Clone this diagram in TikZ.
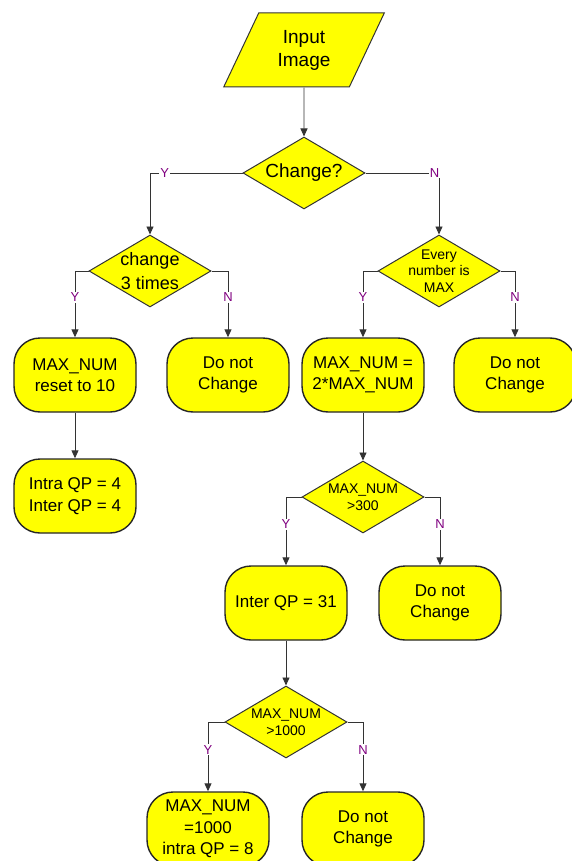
\documentclass[tikz,border=0pt]{standalone}
\usepackage{fontspec}
\setmainfont{Liberation Sans}
\usetikzlibrary{shapes.geometric,arrows.meta}
\definecolor{fc}{RGB}{255,255,0}
\definecolor{lab}{RGB}{128,0,128}

\begin{document}
\begin{tikzpicture}[x=1pt, y=-1pt,
  io/.style   = {trapezium, trapezium left angle=63, trapezium right angle=117,
                 trapezium stretches=true,
                 draw=black!80, fill=fc, line width=1pt, minimum width=162pt,
                 minimum height=74pt, inner sep=0pt, align=center,
                 font=\fontsize{19}{23}\selectfont},
  dec/.style  = {diamond, draw=black!80, fill=fc, line width=1pt, aspect=1.7,
                 minimum width=122pt, minimum height=72pt, inner sep=-3pt,
                 align=center, font=\fontsize{19}{23}\selectfont},
  sdec/.style = {dec, font=\fontsize{14}{16.5}\selectfont},
  act/.style  = {rectangle, rounded corners=26pt, draw=black!85, fill=fc,
                 line width=1.4pt, minimum width=122pt, minimum height=74pt,
                 align=center, font=\fontsize{17}{21.5}\selectfont},
  e/.style    = {draw=black!80, line width=0.9pt, -{Triangle[length=8pt,width=7pt]}},
  yn/.style   = {fill=white, text=lab, inner sep=1pt, font=\fontsize{13}{15}\selectfont}]
\useasboundingbox (0,0) rectangle (571,861);

% --- input and first test ---------------------------------------------
\node[io]  (inp) at (304,50)  {Input\\Image};
\node[dec] (chg) at (304,173) {Change?};

% --- second level tests -----------------------------------------------
\node[dec, font=\fontsize{18}{24}\selectfont] (c3) at (150,271) {change\\3 times};
\node[sdec] (all) at (439,271) {Every\\number is\\MAX};

% --- actions ----------------------------------------------------------
\node[act] (rst)  at (75,375)  {MAX\_NUM\\reset to 10};
\node[act] (nc1)  at (228,375) {Do not\\Change};
\node[act] (dbl)  at (363,375) {MAX\_NUM =\\2*MAX\_NUM};
\node[act] (nc2)  at (515,375) {Do not\\Change};
\node[act] (qp4)  at (75,496)  {Intra QP = 4\\Inter QP = 4};
\node[sdec] (g300) at (363,497) {MAX\_NUM\\>300};
\node[act] (qp31) at (286,603) {Inter QP = 31};
\node[act] (nc3)  at (440,603) {Do not\\Change};
\node[sdec] (g1k) at (286,722) {MAX\_NUM\\>1000};
\node[act] (set1k) at (208,829) {MAX\_NUM\\=1000\\intra QP = 8};
\node[act] (nc4)  at (363,829) {Do not\\Change};

% --- edges ------------------------------------------------------------
\draw[e] (inp) -- (chg);
\draw[e] (chg.west) -| node[yn, pos=0.42] {Y} (c3.north);
\draw[e] (chg.east) -| node[yn, pos=0.47] {N} (all.north);
\draw[e] (c3.west)  -| node[yn, pos=0.7] {Y} (rst.north);
\draw[e] (c3.east)  -| node[yn, pos=0.7] {N} (nc1.north);
\draw[e] (all.west) -| node[yn, pos=0.7] {Y} (dbl.north);
\draw[e] (all.east) -| node[yn, pos=0.7] {N} (nc2.north);
\draw[e] (rst) -- (qp4);
\draw[e] (dbl) -- (g300);
\draw[e] (g300.west) -| node[yn, pos=0.7] {Y} (qp31.north);
\draw[e] (g300.east) -| node[yn, pos=0.7] {N} (nc3.north);
\draw[e] (qp31) -- (g1k);
\draw[e] (g1k.west) -| node[yn, pos=0.7] {Y} (set1k.north);
\draw[e] (g1k.east) -| node[yn, pos=0.7] {N} (nc4.north);
\end{tikzpicture}
\end{document}
